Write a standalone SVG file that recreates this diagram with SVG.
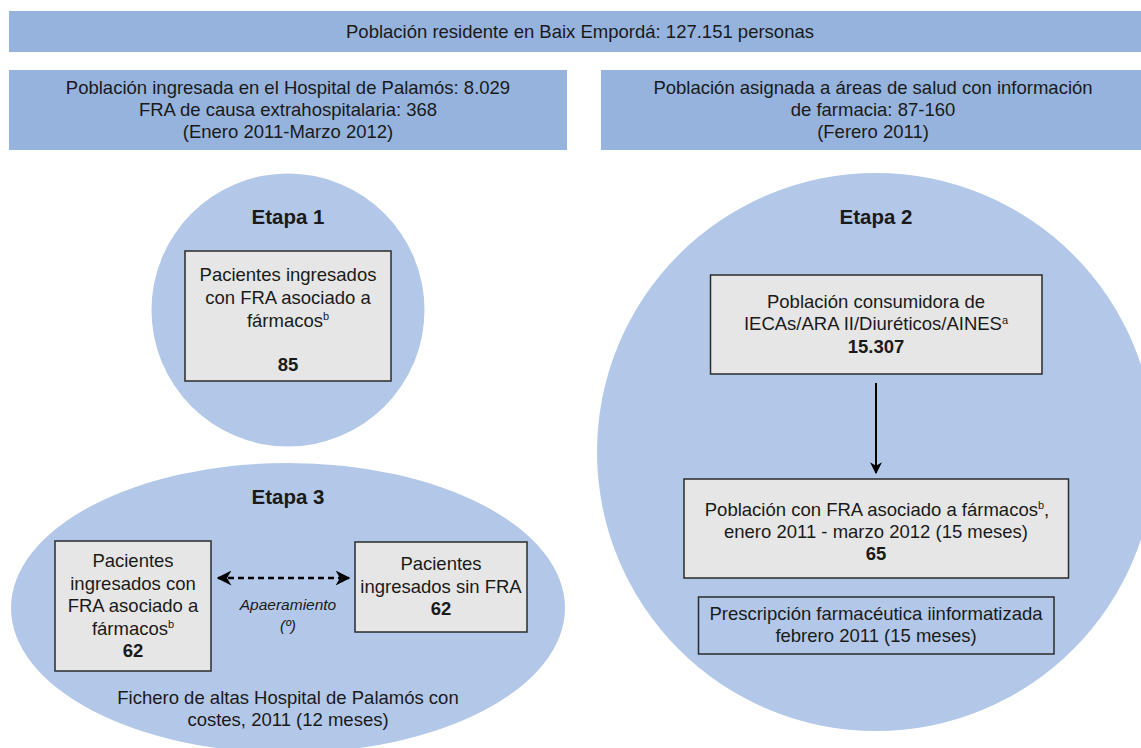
<svg xmlns="http://www.w3.org/2000/svg" width="1141" height="748" viewBox="0 0 1141 748">
<style>
.bar{fill:#95b3dc}
.zone{fill:#b3c8e8}
.box{fill:#e6e6e6;stroke:#2b2b2b;stroke-width:1.5}
.obox{fill:none;stroke:#2b2b2b;stroke-width:1.5}
text{font-family:"Liberation Sans",Arial,sans-serif;fill:#1a1a1a;text-anchor:middle}
.t{font-size:18.5px}
.tb{font-size:18.5px;font-weight:bold}
.h{font-size:20.5px;font-weight:bold}
.it{font-size:15.5px;font-style:italic}
.sup{font-size:11px}
</style>
<defs>
<marker id="ah" viewBox="0 0 10 10" refX="9" refY="5" markerWidth="6" markerHeight="6" orient="auto-start-reverse" markerUnits="strokeWidth">
<path d="M0,0 L10,5 L0,10 L3,5 Z" fill="#000"/>
</marker>
</defs>
<rect width="1141" height="748" fill="#fff"/>
<g id="top">
<rect class="bar" x="9" y="11" width="1132" height="41"/>
<text class="t" x="580" y="38">Población residente en Baix Empordá: 127.151 personas</text>
</g>
<g id="hospital">
<rect class="bar" x="9" y="70" width="558" height="80"/>
<text class="t" x="288" y="94">Población ingresada en el Hospital de Palamós: 8.029</text>
<text class="t" x="288" y="116">FRA de causa extrahospitalaria: 368</text>
<text class="t" x="288" y="138">(Enero 2011-Marzo 2012)</text>
</g>
<g id="areas">
<rect class="bar" x="601" y="70" width="540" height="80"/>
<text class="t" x="873" y="94">Población asignada a áreas de salud con información</text>
<text class="t" x="873" y="116">de farmacia: 87-160</text>
<text class="t" x="873" y="138">(Ferero 2011)</text>
</g>
<g id="etapa1">
<circle class="zone" cx="288" cy="310" r="136.5"/>
<text class="h" x="288" y="224">Etapa 1</text>
<rect class="box" x="185" y="251" width="206" height="130"/>
<text class="t" x="288" y="281">Pacientes ingresados</text>
<text class="t" x="288" y="304">con FRA asociado a</text>
<text class="t" x="288" y="327">fármacos<tspan class="sup" dy="-7">b</tspan></text>
<text class="tb" x="288" y="371">85</text>
</g>
<g id="etapa3">
<ellipse class="zone" cx="288" cy="608" rx="277" ry="145"/>
<text class="h" x="288" y="504">Etapa 3</text>
<text class="t" x="288" y="704">Fichero de altas Hospital de Palamós con</text>
<text class="t" x="288" y="726">costes, 2011 (12 meses)</text>
</g>
<g id="casos">
<rect class="box" x="55" y="541" width="156" height="130"/>
<text class="t" x="133" y="567">Pacientes</text>
<text class="t" x="133" y="590">ingresados con</text>
<text class="t" x="133" y="612">FRA asociado a</text>
<text class="t" x="133" y="635">fármacos<tspan class="sup" dy="-7">b</tspan></text>
<text class="tb" x="133" y="657">62</text>
</g>
<g id="controles">
<rect class="box" x="355" y="542" width="172" height="90"/>
<text class="t" x="441" y="570">Pacientes</text>
<text class="t" x="441" y="593">ingresados sin FRA</text>
<text class="tb" x="441" y="615">62</text>
</g>
<g id="apareamiento">
<text class="it" x="288" y="610">Apaeramiento</text>
<text class="it" x="288" y="631">(º)</text>
</g>
<g id="etapa2">
<circle class="zone" cx="876" cy="452" r="279"/>
<text class="h" x="876" y="224">Etapa 2</text>
</g>
<g id="consumidora">
<rect class="box" x="710.5" y="275" width="331.5" height="99"/>
<text class="t" x="876" y="308">Población consumidora de</text>
<text class="t" x="876" y="330">IECAs/ARA II/Diuréticos/AINES<tspan class="sup" dy="-6">a</tspan></text>
<text class="tb" x="876" y="353">15.307</text>
</g>
<g id="fra">
<rect class="box" x="684" y="479" width="384.5" height="99"/>
<text class="t" x="877" y="516">Población con FRA asociado a fármacos<tspan class="sup" dy="-7">b</tspan><tspan dy="7">,</tspan></text>
<text class="t" x="876" y="538">enero 2011 - marzo 2012 (15 meses)</text>
<text class="tb" x="876" y="560">65</text>
</g>
<g id="prescripcion">
<rect class="obox" x="698.5" y="597" width="355.5" height="57"/>
<text class="t" x="876" y="620">Prescripción farmacéutica iinformatizada</text>
<text class="t" x="876" y="642">febrero 2011 (15 meses)</text>
</g>
<g id="connectors">
<line x1="876" y1="383" x2="876" y2="473" stroke="#000" stroke-width="2" marker-end="url(#ah)"/>
<line x1="218" y1="578" x2="349" y2="578" stroke="#000" stroke-width="2.5" stroke-dasharray="6,4" marker-start="url(#ah)" marker-end="url(#ah)"/>
</g>
</svg>
